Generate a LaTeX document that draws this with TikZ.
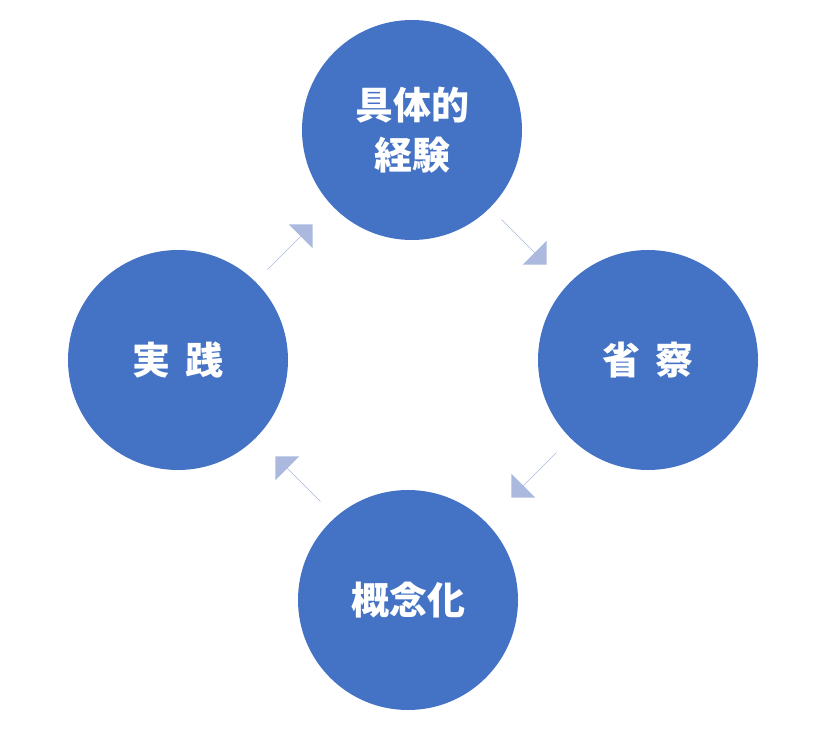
\documentclass[tikz,border=0pt]{standalone}
\usepackage{fontspec}
\newfontfamily\cjk{Noto Sans CJK JP}
\usetikzlibrary{shapes.arrows}

\definecolor{stagecol}{HTML}{4472C4}
\definecolor{arrowcol}{HTML}{AAB9DD}
\tikzset{
  stage/.style={circle, fill=stagecol, minimum size=220pt, inner sep=0pt,
    text=white, font=\cjk\bfseries\fontsize{38}{50}\selectfont, align=center},
  flow/.style={single arrow, fill=arrowcol, minimum height=64pt, minimum width=34pt,
    single arrow head extend=12pt, single arrow tip angle=90, inner sep=0pt},
}

\begin{document}
\begin{tikzpicture}[x=1pt,y=1pt]
  \useasboundingbox (0,0) rectangle (840,737);
  \node[stage] (exp) at (412,607) {具体的\\経験};
  \node[stage] (ref) at (648,377) {省\hspace{0.4em}察};
  \node[stage] (con) at (408,137) {概念化};
  \node[stage] (act) at (178,377) {実\hspace{0.4em}践};
  \node[flow, rotate=-45] (a1) at (524,495) {};
  \node[flow, rotate=-135] (a2) at (534,262) {};
  \node[flow, rotate=135] (a3) at (298,258) {};
  \node[flow, rotate=45] (a4) at (290,490) {};
\end{tikzpicture}
\end{document}
